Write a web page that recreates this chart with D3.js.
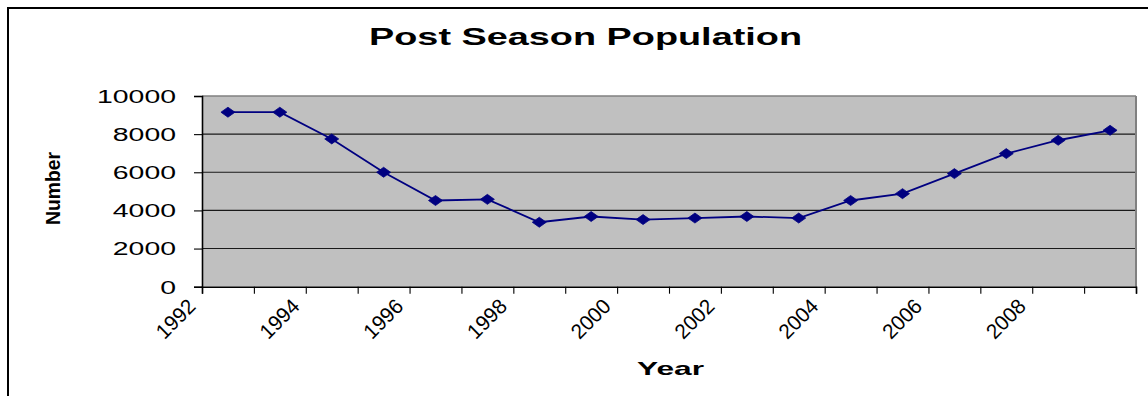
<!DOCTYPE html>
<html>
<head>
<meta charset="utf-8">
<script src="https://cdn.jsdelivr.net/npm/d3@7"></script>
<style>
  html, body { margin: 0; padding: 0; background: #fff; }
  svg { display: block; }
  text { font-family: "Liberation Sans", Arial, sans-serif; fill: #000; }
</style>
</head>
<body>
<svg id="chart" width="1148" height="396"></svg>
<script>
// ---- Data ----
const years = [1992, 1993, 1994, 1995, 1996, 1997, 1998, 1999, 2000,
               2001, 2002, 2003, 2004, 2005, 2006, 2007, 2008, 2009];
const population = [9150, 9150, 7750, 6000, 4520, 4580, 3380, 3680, 3520,
                    3600, 3680, 3600, 4520, 4880, 5930, 6980, 7680, 8200];
const xTickLabels = [1992, 1994, 1996, 1998, 2000, 2002, 2004, 2006, 2008];
const yTicks = [0, 2000, 4000, 6000, 8000, 10000];
const titleText = "Post Season Population";
const xTitle = "Year";
const yTitle = "Number";

// ---- Layout ----
const svg = d3.select("#chart");
const plotL = 202, plotR = 1136, plotT = 96, plotB = 286.7;

// outer chart border (cropped at right and bottom)
svg.append("path")
  .attr("d", `M8,400 L8,8 L1150,8`)
  .attr("fill", "none").attr("stroke", "#000").attr("stroke-width", 2);

// scales: categories occupy intervals between ticks
const x = d3.scaleLinear().domain([years[0], years[years.length - 1] + 1]).range([plotL, plotR]);
const y = d3.scaleLinear().domain([0, 10000]).range([plotB, plotT]);

// plot background
svg.append("rect")
  .attr("x", plotL).attr("y", plotT)
  .attr("width", plotR - plotL).attr("height", plotB - plotT)
  .attr("fill", "#c0c0c0");

// gridlines
svg.append("g").selectAll("line")
  .data(yTicks.filter(d => d > 0 && d < 10000))
  .join("line")
  .attr("x1", plotL).attr("x2", plotR)
  .attr("y1", d => y(d)).attr("y2", d => y(d))
  .attr("stroke", "#1a1a1a").attr("stroke-width", 1.1);

// plot top border and right border
svg.append("line").attr("x1", plotL).attr("x2", plotR).attr("y1", y(10000)).attr("y2", y(10000))
  .attr("stroke", "#808080").attr("stroke-width", 1.3);
svg.append("line").attr("x1", plotR).attr("x2", plotR).attr("y1", plotT).attr("y2", plotB)
  .attr("stroke", "#808080").attr("stroke-width", 2);

// y axis
const yAxis = svg.append("g")
  .attr("transform", `translate(${plotL},0)`)
  .call(d3.axisLeft(y).tickValues(yTicks).tickSize(8).tickPadding(18).tickFormat(d3.format("d")));
yAxis.select(".domain").attr("stroke", "#000").attr("stroke-width", 1.6);
yAxis.selectAll(".tick line").attr("stroke", "#000").attr("stroke-width", 1.1);
yAxis.selectAll(".tick text")
  .attr("font-size", "17.5px")
  .attr("font-family", "Liberation Sans, Arial, sans-serif")
  .attr("textLength", d => String(d).length * 15.8)
  .attr("lengthAdjust", "spacingAndGlyphs")
  .attr("dy", "0.36em");

// x axis
const xTickVals = d3.range(years[0], years[years.length - 1] + 2);
const xAxis = svg.append("g")
  .attr("transform", `translate(0,${plotB})`)
  .call(d3.axisBottom(x).tickValues(xTickVals).tickSize(7).tickFormat(""));
xAxis.select(".domain").attr("stroke", "#000").attr("stroke-width", 1.6);
xAxis.selectAll(".tick line").attr("stroke", "#000").attr("stroke-width", 1.1);

// rotated x tick labels
svg.append("g").selectAll("text")
  .data(xTickLabels)
  .join("text")
  .attr("transform", d => `translate(${x(d) - 5},${plotB + 21}) rotate(-45)`)
  .attr("text-anchor", "end")
  .attr("font-size", "21px")
  .attr("textLength", 46)
  .attr("lengthAdjust", "spacingAndGlyphs")
  .text(d => d);

// line
const pts = years.map((yr, i) => [x(yr + 0.5), y(population[i])]);
svg.append("path")
  .attr("d", d3.line()(pts))
  .attr("fill", "none").attr("stroke", "#000080").attr("stroke-width", 1.8);

// diamond markers
svg.append("g").selectAll("path")
  .data(pts)
  .join("path")
  .attr("d", d => `M${d[0] - 7},${d[1]} L${d[0]},${d[1] - 5} L${d[0] + 7},${d[1]} L${d[0]},${d[1] + 5} Z`)
  .attr("fill", "#000080").attr("stroke", "#000080").attr("stroke-width", 0.8);

// title
svg.append("text")
  .attr("x", 585.5).attr("y", 45)
  .attr("text-anchor", "middle")
  .attr("font-size", "24px").attr("font-weight", "bold")
  .attr("textLength", 433).attr("lengthAdjust", "spacingAndGlyphs")
  .text(titleText);

// x title
svg.append("text")
  .attr("x", 670.5).attr("y", 375)
  .attr("text-anchor", "middle")
  .attr("font-size", "18.5px").attr("font-weight", "bold")
  .attr("textLength", 67).attr("lengthAdjust", "spacingAndGlyphs")
  .text(xTitle);

// y title
svg.append("text")
  .attr("transform", "translate(60,188.5) rotate(-90)")
  .attr("text-anchor", "middle")
  .attr("font-size", "21px").attr("font-weight", "bold")
  .attr("textLength", 73).attr("lengthAdjust", "spacingAndGlyphs")
  .text(yTitle);
</script>
</body>
</html>
